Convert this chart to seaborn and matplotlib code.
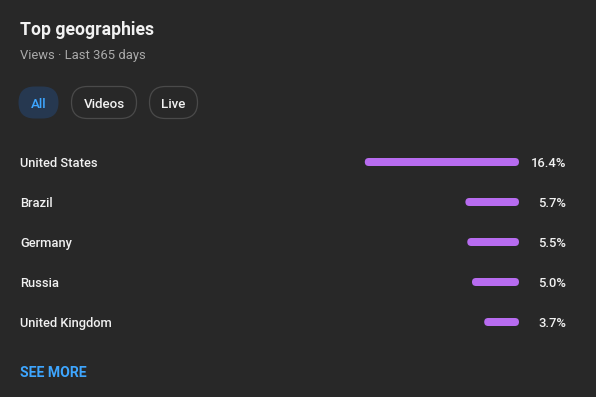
import matplotlib
matplotlib.use("Agg")
import matplotlib.pyplot as plt
import seaborn as sns
import pandas as pd
from matplotlib.patches import FancyBboxPatch

# -----------------------------
# Data
# -----------------------------
countries = ["United States", "Brazil", "Germany", "Russia", "United Kingdom"]
shares = [16.4, 5.7, 5.5, 5.0, 3.7]
tabs = ["All", "Videos", "Live"]

title = "Top geographies"
subtitle = "Views \u00b7 Last 365 days"

BG = "#282828"
PURPLE = "#b86cf0"
BLUE = "#3ea6ff"
WHITE = "#f1f1f1"
GREY = "#aaaaaa"

sns.set_theme(style="dark", rc={"axes.facecolor": BG, "figure.facecolor": BG})
plt.rcParams["font.family"] = ["Roboto", "DejaVu Sans"]

W, H = 596, 397
fig = plt.figure(figsize=(W / 100, H / 100), dpi=100)
fig.patch.set_facecolor(BG)

# overlay in pixel coords for header / buttons
over = fig.add_axes([0, 0, 1, 1], zorder=0)
over.set_xlim(0, W)
over.set_ylim(H, 0)
over.axis("off")
over.patch.set_alpha(0)

over.text(20, 35, title, color=WHITE, fontsize=12.7, fontweight="bold", va="baseline")
over.text(20, 58.5, subtitle, color=GREY, fontsize=9.4, va="baseline")

# tab pills
pills = [(18, 41), (71, 66), (149, 49)]
for (px, pw), label in zip(pills, tabs):
    active = label == "All"
    box = FancyBboxPatch((px + 0.5, 86.5), pw - 1, 32,
                         boxstyle="round,pad=0,rounding_size=16",
                         facecolor="#263850" if active else "none",
                         edgecolor="none" if active else "#4a4a4a",
                         linewidth=0.9)
    over.add_patch(box)
    over.text(px + pw / 2, 107.5, label, color=BLUE if active else WHITE,
              fontsize=9.6, fontweight="medium", ha="center", va="baseline")

over.text(20, 377, "SEE MORE", color=BLUE, fontsize=10.1, fontweight="bold", va="baseline")

# -----------------------------
# Bars
# -----------------------------
df = pd.DataFrame({"country": countries, "share": shares})

ax_left, ax_right = 330, 519
ax_top, ax_bottom = 142, 342
ax = fig.add_axes([ax_left / W, 1 - ax_bottom / H, (ax_right - ax_left) / W, (ax_bottom - ax_top) / H],
                  zorder=1)
ax.patch.set_alpha(0)

sns.barplot(data=df, x="share", y="country", orient="h", width=0.2,
            color=PURPLE, saturation=1, ax=ax)
xmax = 20.1
ax.set_xlim(xmax, 0)
ax.set_ylim(len(countries) - 0.5, -0.5)

# swap square bars for rounded ones
sx = (ax_right - ax_left) / xmax
sy = (ax_bottom - ax_top) / len(countries)
r = 4 / sx
for p in list(ax.patches):
    x, y, w, h = p.get_x(), p.get_y(), p.get_width(), p.get_height()
    rb = FancyBboxPatch((x, y), w, h, boxstyle=f"round,pad=0,rounding_size={r}",
                        mutation_aspect=sx / sy, facecolor=PURPLE, edgecolor="none")
    p.remove()
    ax.add_patch(rb)

ax.set_xlabel("")
ax.set_ylabel("")
ax.set_xticks([])
ax.set_yticks([])
for s in ax.spines.values():
    s.set_visible(False)

trans = ax.get_yaxis_transform()
lab_x = (20 - ax_left) / (ax_right - ax_left)
pct_x = (566 - ax_left) / (ax_right - ax_left)
for i, (c, v) in enumerate(zip(countries, shares)):
    ax.text(lab_x, i + 5 / sy, c, transform=trans, color=WHITE, fontsize=9.3,
            fontweight="medium", va="baseline", ha="left", clip_on=False)
    ax.text(pct_x, i + 5 / sy, f"{v:.1f}%", transform=trans, color=WHITE, fontsize=9.4,
            fontweight="medium", va="baseline", ha="right", clip_on=False)

fig.savefig("out.png", dpi=100, facecolor=BG)
